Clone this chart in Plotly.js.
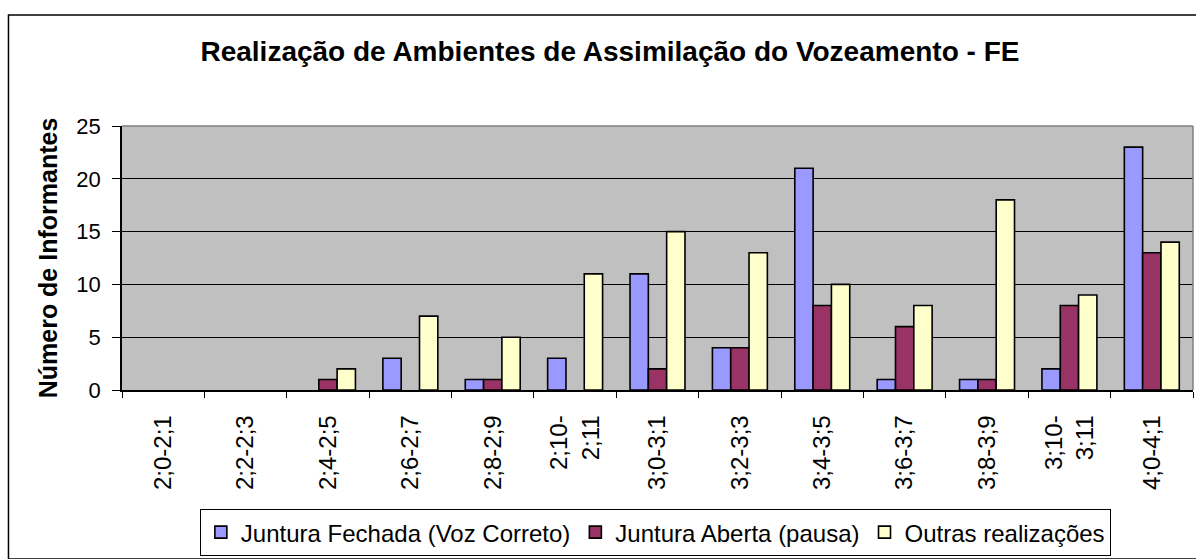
<!DOCTYPE html>
<html>
<head>
<meta charset="utf-8">
<script src="https://cdn.plot.ly/plotly-3.0.1.min.js"></script>
<style>
  html, body { margin: 0; padding: 0; background: #ffffff; }
  #chart { width: 1196px; height: 559px; }
</style>
</head>
<body>
<div id="chart"></div>
<script>
// Categories (age ranges)
const categories = ["2;0-2;1", "2;2-2;3", "2;4-2;5", "2;6-2;7", "2;8-2;9", "2;10-<br>2;11",
  "3;0-3;1", "3;2-3;3", "3;4-3;5", "3;6-3;7", "3;8-3;9", "3;10-<br>3;11", "4;0-4;1"];

// Series values
const seriesNames = ["Juntura Fechada (Voz Correto)", "Juntura Aberta (pausa)", "Outras realizações"];
const juntFechada = [0, 0, 0, 3, 1, 3, 11, 4, 21, 1, 1, 2, 23];
const juntAberta  = [0, 0, 1, 0, 1, 0, 2, 4, 8, 6, 1, 8, 13];
const outras      = [0, 0, 2, 7, 5, 11, 15, 13, 10, 8, 18, 9, 14];

const yTicks = [0, 5, 10, 15, 20, 25];

const FONT = "Liberation Sans, Arial, sans-serif";
const colors = ["#9999FF", "#993366", "#FFFFCC"];
const values = [juntFechada, juntAberta, outras];

const traces = values.map((v, i) => ({
  type: "bar",
  name: seriesNames[i],
  x: categories,
  // zero-height bars are drawn as nothing (as in the original)
  y: v.map(d => (d === 0 ? null : d)),
  customdata: v,
  marker: { color: colors[i], line: { color: "#000000", width: 1.6 } },
  hovertemplate: "%{x}: %{customdata}<extra>" + seriesNames[i] + "</extra>"
}));

const layout = {
  width: 1196,
  height: 559,
  margin: { l: 122, r: 3, t: 126, b: 165 },
  paper_bgcolor: "#ffffff",
  plot_bgcolor: "#C0C0C0",
  barmode: "group",
  bargap: 0.333,
  bargroupgap: 0,
  font: { family: FONT, color: "#000000" },
  title: {
    text: "<b>Realização de Ambientes de Assimilação do Vozeamento - FE</b>",
    font: { family: FONT, size: 28, color: "#000000" },
    x: 0.51, xanchor: "center", xref: "container",
    y: 0.909, yanchor: "middle", yref: "container"
  },
  xaxis: {
    type: "category",
    tickangle: -90,
    tickfont: { family: FONT, size: 24, color: "#000000" },
    ticks: "outside",
    tickson: "boundaries",
    ticklen: 6,
    tickcolor: "#000000",
    tickwidth: 1,
    ticklabelstandoff: 14,
    showline: true,
    linecolor: "#000000",
    linewidth: 1.5,
    showgrid: false,
    zeroline: false,
    automargin: false
  },
  yaxis: {
    range: [0, 25],
    tickvals: yTicks,
    ticktext: yTicks.map(String),
    tickfont: { family: FONT, size: 22, color: "#000000" },
    ticks: "outside",
    ticklen: 8,
    tickcolor: "#000000",
    tickwidth: 1,
    ticklabelstandoff: 7,
    showline: true,
    linecolor: "#000000",
    linewidth: 1.5,
    showgrid: true,
    gridcolor: "#000000",
    gridwidth: 1,
    zeroline: false,
    automargin: false,
    title: {
      text: "<b>Número de Informantes</b>",
      font: { family: FONT, size: 25, color: "#000000" },
      standoff: 12
    }
  },
  legend: {
    orientation: "h",
    x: 0.498, xanchor: "center", xref: "paper",
    y: -0.451, yanchor: "top", yref: "paper",
    bordercolor: "#000000",
    borderwidth: 1,
    bgcolor: "#ffffff",
    font: { family: FONT, size: 24, color: "#000000" },
    traceorder: "normal",
    itemclick: false,
    itemdoubleclick: false
  },
  shapes: [
    // outer chart border
    { type: "rect", xref: "paper", yref: "paper",
      x0: -0.106, x1: 1.01, y0: -0.64, y1: 1.42,
      line: { color: "#000000", width: 1.5 }, fillcolor: "rgba(0,0,0,0)", layer: "above" },
    // plot area top and right border (gray)
    { type: "line", xref: "paper", yref: "paper", x0: 0, x1: 1, y0: 1, y1: 1,
      line: { color: "#808080", width: 1.5 }, layer: "above" },
    { type: "line", xref: "paper", yref: "paper", x0: 1, x1: 1, y0: 0, y1: 1,
      line: { color: "#808080", width: 1.5 }, layer: "above" }
  ]
};

Plotly.newPlot("chart", traces, layout, { displayModeBar: false, staticPlot: false, responsive: false });
</script>
</body>
</html>
